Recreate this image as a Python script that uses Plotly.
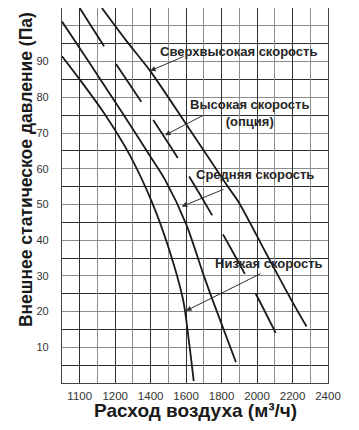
"""Кривые вентилятора: внешнее статическое давление в зависимости от расхода воздуха."""
import plotly.graph_objects as go

# расход воздуха (м3/ч) и давление (Па)
low_x = [900, 1000, 1134, 1280, 1406, 1500, 1584, 1615, 1643]
low_y = [91.5, 85.0, 75.8, 64.0, 50.8, 38.0, 23.0, 12.0, 0.5]

mid_x = [900, 1050, 1238, 1400, 1480, 1600, 1700, 1751, 1881]
mid_y = [101.2, 90.0, 75.8, 63.3, 57.0, 44.5, 30.0, 23.0, 5.8]

high_x = [1000, 1144, 1357, 1566, 1751, 2005, 2117]
high_y = [105.0, 93.8, 78.0, 62.0, 46.6, 23.8, 12.8]

super_x = [1125, 1260, 1397, 1620, 1828, 1894, 2050, 2196, 2279]
super_y = [105.0, 96.0, 87.4, 71.0, 55.5, 50.8, 36.4, 23.0, 15.8]

x_ticks = [1000, 1200, 1400, 1600, 1800, 2000, 2200, 2400]
x_labels = ["1100", "1200", "1400", "1600", "1800", "2000", "2200", "2400"]
y_ticks = [10, 20, 30, 40, 50, 60, 70, 80, 90, 100]
y_labels = ["10", "20", "30", "40", "50", "60", "70", "80", "90", ""]

INK = "#1a1a1a"
TXT = "#262626"
DARK = "#2e2e2e"
GRAY = "#8c8c8c"
FONT = "Liberation Sans, Arial, sans-serif"

fig = go.Figure()
for i, (xs, ys, dash) in enumerate([
    (low_x, low_y, "solid"),
    (mid_x, mid_y, "solid"),
    (high_x, high_y, "45px,22px"),
    (super_x, super_y, "solid"),
]):
    fig.add_trace(
        go.Scatter(
            x=xs, y=ys, mode="lines", xaxis="x2" if i == 0 else "x",
            line=dict(color=INK, width=1.8, shape="spline", smoothing=0.8, dash=dash),
            hoverinfo="skip",
        )
    )

# подписи кривых и стрелки
labels = [
    ("Сверхвысокая скорость", 1893, 92.7, (1594, 91.6), (1397, 87.4)),
    ("Высокая скорость<br>(опция)", 1960, 75.6, (1706, 75.2), (1481, 69.4)),
    ("Средняя скорость", 1988, 58.3, (1819, 54.4), (1575, 49.4)),
    ("Низкая скорость", 2067, 33.5, (2027, 30.8), (1599, 20.2)),
]
for text, tx, ty, tail, head in labels:
    fig.add_annotation(
        x=tx, y=ty, text=f"<b>{text}</b>", showarrow=False,
        font=dict(family=FONT, size=13, color=TXT), align="center",
    )
    fig.add_annotation(
        x=head[0], y=head[1], ax=tail[0], ay=tail[1], axref="x", ayref="y",
        text="", showarrow=True, arrowhead=2, arrowsize=1.1, arrowwidth=1,
        arrowcolor=DARK,
    )

fig.add_annotation(
    xref="paper", yref="paper", x=-0.135, y=0.568, textangle=-90,
    text="<b>Внешнее статическое давление (Па)</b>", showarrow=False,
    font=dict(family=FONT, size=17.5, color=INK), xanchor="center", yanchor="middle",
)
fig.add_annotation(
    xref="paper", yref="paper", x=0.5, y=-0.072,
    text="<b>Расход воздуха (м³/ч)</b>", showarrow=False,
    font=dict(family=FONT, size=19, color=INK), xanchor="center", yanchor="middle",
)

# сетка: серые линии через 100 м3/ч, тёмные на подписанных столбцах (ось x2)
fig.update_layout(
    xaxis=dict(
        range=[900, 2400], tickmode="linear", tick0=900, dtick=100,
        showticklabels=False, ticks="",
        showgrid=True, gridcolor=GRAY, gridwidth=1,
        showline=True, linecolor="#444", linewidth=1.2, mirror=True, zeroline=False,
    ),
    xaxis2=dict(
        matches="x", overlaying="x", anchor="y", side="bottom",
        tickmode="array", tickvals=x_ticks, ticktext=x_labels,
        showgrid=True, gridcolor=DARK, gridwidth=1,
        zeroline=False, ticks="", ticklabelstandoff=4,
        tickfont=dict(family=FONT, size=11.5, color="#333"),
    ),
    yaxis=dict(
        range=[0, 105], tickmode="array", tickvals=y_ticks, ticktext=y_labels,
        showgrid=True, gridcolor=GRAY, gridwidth=1,
        minor=dict(tick0=5, dtick=10, showgrid=True, gridcolor=DARK, gridwidth=1),
        showline=True, linecolor="#444", linewidth=1.2, mirror=True,
        zeroline=False, ticks="", ticklabelstandoff=10,
        tickfont=dict(family=FONT, size=11, color="#333"),
    ),
    width=343, height=414,
    margin=dict(l=54, r=23, t=0, b=39),
    plot_bgcolor="white", paper_bgcolor="white",
    showlegend=False,
)

fig.write_html("out.html")
